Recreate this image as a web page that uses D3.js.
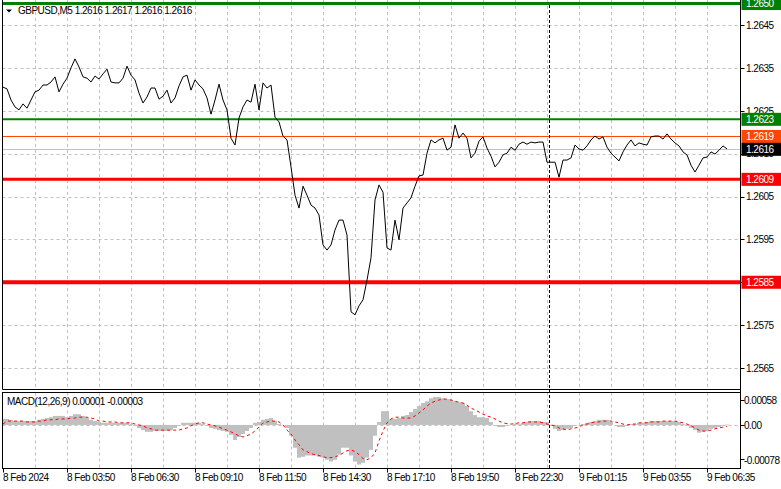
<!DOCTYPE html>
<html><head><meta charset="utf-8">
<script src="https://cdn.jsdelivr.net/npm/d3@7/dist/d3.min.js"></script>
<style>
body{margin:0;background:#fff}
svg{display:block}
text{font-family:"Liberation Sans",Arial,sans-serif;font-size:10px;letter-spacing:-0.5px}
</style>
</head><body><svg id="c" width="781" height="489"></svg>
<script>
// ---------- data ----------
const symbolTitle = "GBPUSD,M5  1.2616 1.2617 1.2616 1.2616";
const macdTitle = "MACD(12,26,9) 0.00001 -0.00003";

// closes, one value every 2 bars (M5)
const closes = [
1.26305,1.26301,1.26275,1.26259,1.26252,1.26266,1.26256,1.26275,1.26294,1.26298,
1.26310,1.26310,1.26317,1.26329,1.26294,1.26312,1.26326,1.26350,1.26371,1.26352,
1.26329,1.26326,1.26317,1.26331,1.26324,1.26336,1.26347,1.26317,1.26315,1.26315,
1.26326,1.26354,1.26333,1.26322,1.26291,1.26268,1.26282,1.26303,1.26303,1.26277,
1.26284,1.26298,1.26268,1.26280,1.26308,1.26329,1.26333,1.26298,1.26322,1.26310,
1.26301,1.26280,1.26242,1.26275,1.26312,1.26275,1.26252,1.26186,1.26170,1.26233,
1.26259,1.26275,1.26270,1.26312,1.26252,1.26315,1.26303,1.26310,1.26235,1.26224,
1.26191,1.26182,1.26119,1.26053,1.26023,1.26074,1.26053,1.26030,1.26023,1.26007,
1.25937,1.25925,1.25937,1.25972,1.25995,1.25995,1.25960,1.25781,1.25774,1.25795,
1.25809,1.25855,1.25907,1.26042,1.26077,1.26060,1.25930,1.25925,1.25995,1.25949,
1.26023,1.26035,1.26047,1.26074,1.26098,1.26100,1.26151,1.26182,1.26175,1.26182,
1.26186,1.26158,1.26165,1.26217,1.26186,1.26198,1.26186,1.26140,1.26151,1.26179,
1.26189,1.26163,1.26144,1.26119,1.26130,1.26147,1.26151,1.26165,1.26158,1.26172,
1.26177,1.26172,1.26177,1.26175,1.26177,1.26177,1.26130,1.26130,1.26130,1.26095,
1.26135,1.26135,1.26140,1.26170,1.26161,1.26158,1.26168,1.26182,1.26191,1.26184,
1.26189,1.26165,1.26151,1.26142,1.26133,1.26154,1.26170,1.26182,1.26168,1.26175,
1.26172,1.26170,1.26189,1.26191,1.26191,1.26184,1.26196,1.26184,1.26175,1.26168,
1.26154,1.26147,1.26123,1.26107,1.26123,1.26140,1.26142,1.26154,1.26149,1.26158,
1.26168,1.26161];

// MACD main (histogram) and signal, in units of 0.00001
const macdMain = [
14,14,12,9,9,9,9,9,9,12,
14,16,18,21,21,21,18,21,25,25,
21,16,12,9,7,5,5,5,5,5,
5,5,2,-2,-7,-12,-16,-16,-14,-14,
-14,-14,-12,-7,-2,5,5,5,5,5,
2,-2,-7,-9,-12,-14,-16,-23,-35,-28,
-21,-14,-7,5,7,12,14,16,9,2,
0,-7,-25,-53,-76,-74,-71,-71,-71,-74,
-76,-81,-85,-81,-69,-53,-53,-71,-85,-92,
-88,-76,-58,-25,7,32,32,14,14,16,
21,23,30,37,44,51,55,62,65,65,
62,60,58,55,53,51,44,32,23,18,
18,16,7,-2,-5,-5,-2,0,2,2,
5,7,9,9,9,7,7,-2,-9,-14,
-12,-9,-7,-2,0,2,5,7,9,12,
12,12,7,0,-5,-5,-2,2,2,5,
5,7,9,9,9,9,9,9,9,7,
2,-2,-7,-12,-18,-16,-14,-9,-7,-5,
-2,1];
const macdSignal = [
2,9,9,9,9,9,7,7,7,9,
9,12,12,12,14,14,14,16,16,18,
18,18,16,14,9,9,7,7,7,5,
5,5,5,2,0,-2,-7,-9,-12,-12,
-12,-12,-12,-12,-12,-9,-7,-2,2,5,
5,2,0,-2,-5,-9,-12,-16,-21,-25,
-28,-25,-21,-14,-5,5,7,9,9,7,
0,-12,-21,-35,-46,-58,-62,-67,-69,-71,
-74,-76,-76,-74,-71,-65,-60,-58,-62,-69,
-78,-81,-76,-65,-37,-14,5,14,18,18,
16,16,16,21,28,35,44,51,55,58,
60,60,58,55,53,51,46,39,35,30,
25,21,18,14,9,5,3,2,3,5,
5,7,7,7,7,5,2,0,-2,-7,
-9,-12,-9,-7,-5,0,2,5,7,7,
9,9,9,7,5,2,0,2,2,5,
5,5,7,7,7,9,9,9,9,7,
5,2,-2,-7,-12,-14,-14,-12,-9,-7,
-5,-3];

const priceTicks = [1.2565,1.2575,1.2585,1.2595,1.2605,1.2615,1.2625,1.2635,1.2645];
const levelPrices = [1.2650,1.2623,1.2619,1.2609,1.2585];
const bidPrice = 1.2616;
const macdTicks = [0.00058,0,-0.00078];
const macdTickLabels = ["0.00058","0.00","-0.00078"];
const timeLabels = ["8 Feb 2024","8 Feb 03:50","8 Feb 06:30","8 Feb 09:10","8 Feb 11:50","8 Feb 14:30",
                    "8 Feb 17:10","8 Feb 19:50","8 Feb 22:30","9 Feb 01:15","9 Feb 03:55","9 Feb 06:35"];
const barsPerPoint = 2, barsPerLabel = 32, barsPerGrid = 16;
const daySeparatorBar = 273;

// ---------- styles ----------
const levelStyle = [
  {color:"#008000", w:3},
  {color:"#008000", w:2},
  {color:"#ff4500", w:1},
  {color:"#ff0000", w:3},
  {color:"#ff0000", w:4}
];
const GRID = "#c0c0c0";

// ---------- layout ----------
const svg = d3.select("#c");
const L = 2.5, R = 740.5, mainTop = 0, mainBot = 389.5, mTop = 392.5, mBot = 468.5;
const nBars = (closes.length - 1) * barsPerPoint;
const x = d3.scaleLinear().domain([0, nBars]).range([3, 727]);
const y = d3.scaleLinear().domain([1.2565, 1.2645]).range([368, 25]);
const ym = d3.scaleLinear().domain([-0.00078, 0.00058]).range([458.5, 400]);

const defs = svg.append("defs");
defs.append("clipPath").attr("id","cm").append("rect").attr("x",L).attr("y",mainTop).attr("width",R-L).attr("height",mainBot-mainTop);
defs.append("clipPath").attr("id","cd").append("rect").attr("x",L+0.5).attr("y",mTop+0.5).attr("width",R-L-1).attr("height",mBot-mTop-1);

// grids
const gridBars = d3.range(barsPerGrid, nBars, barsPerGrid);
const gMain = svg.append("g").attr("clip-path","url(#cm)");
gMain.selectAll("line.hg").data(priceTicks).join("line")
  .attr("x1",L).attr("x2",R).attr("y1",d=>Math.round(y(d))+0.5).attr("y2",d=>Math.round(y(d))+0.5)
  .attr("stroke",GRID).attr("stroke-dasharray","3,3");
gMain.selectAll("line.vg").data(gridBars).join("line")
  .attr("x1",d=>Math.round(x(d))+0.5).attr("x2",d=>Math.round(x(d))+0.5).attr("y1",mainTop).attr("y2",mainBot)
  .attr("stroke",GRID).attr("stroke-dasharray","3,3");

const gM = svg.append("g").attr("clip-path","url(#cd)");
gM.selectAll("line.vg").data(gridBars).join("line")
  .attr("x1",d=>Math.round(x(d))+0.5).attr("x2",d=>Math.round(x(d))+0.5).attr("y1",mTop).attr("y2",mBot)
  .attr("stroke",GRID).attr("stroke-dasharray","3,3");

// bid line
gMain.append("line").attr("x1",L).attr("x2",R).attr("y1",Math.round(y(bidPrice))+0.5).attr("y2",Math.round(y(bidPrice))+0.5)
  .attr("stroke","#c0c0c0");

// level lines
gMain.selectAll("line.lv").data(levelPrices).join("line")
  .attr("x1",L).attr("x2",R).attr("y1",d=>y(d)).attr("y2",d=>y(d))
  .attr("stroke",(d,i)=>levelStyle[i].color).attr("stroke-width",(d,i)=>levelStyle[i].w);

// price line
gMain.append("path").datum(closes)
  .attr("d", d3.line().x((d,i)=>x(i*barsPerPoint)).y(d=>y(d)))
  .attr("fill","none").attr("stroke","#000").attr("stroke-width",1);

// MACD histogram
const zeroY = ym(0);
gM.selectAll("rect.h").data(macdMain).join("rect")
  .attr("x",(d,i)=>x(i*barsPerPoint)-2).attr("width",4)
  .attr("y",d=>Math.min(ym(d*1e-5),zeroY)).attr("height",d=>Math.abs(ym(d*1e-5)-zeroY))
  .attr("fill","#c0c0c0");
// MACD zero grid
gM.append("line").attr("x1",L).attr("x2",R).attr("y1",Math.round(zeroY)+0.5).attr("y2",Math.round(zeroY)+0.5)
  .attr("stroke",GRID).attr("stroke-dasharray","3,3");
// signal
gM.append("path").datum(macdSignal)
  .attr("d", d3.line().x((d,i)=>x(i*barsPerPoint)).y(d=>ym(d*1e-5)))
  .attr("fill","none").attr("stroke","#ff0000").attr("stroke-width",1).attr("stroke-dasharray","3,3");

// day separator
svg.append("line").attr("x1",Math.round(x(daySeparatorBar))+0.5).attr("x2",Math.round(x(daySeparatorBar))+0.5)
  .attr("y1",mainTop+5).attr("y2",mBot).attr("stroke","#000").attr("stroke-dasharray","3,2");

// borders
svg.append("line").attr("x1",L).attr("x2",L).attr("y1",0).attr("y2",mainBot).attr("stroke","#000");
svg.append("line").attr("x1",L).attr("x2",R).attr("y1",mainBot).attr("y2",mainBot).attr("stroke","#000");
svg.append("rect").attr("x",L).attr("y",mTop).attr("width",R-L).attr("height",mBot-mTop)
  .attr("fill","none").attr("stroke","#000");
svg.append("line").attr("x1",R).attr("x2",R).attr("y1",0).attr("y2",mBot).attr("stroke","#000");

// right price axis
const ax = svg.append("g");
ax.selectAll("line.t").data(priceTicks).join("line")
  .attr("x1",R).attr("x2",R+4).attr("y1",d=>Math.round(y(d))+0.5).attr("y2",d=>Math.round(y(d))+0.5).attr("stroke","#000");
ax.selectAll("text.t").data(priceTicks).join("text")
  .attr("x",746).attr("y",d=>y(d)+3.8).attr("fill","#000").text(d=>d.toFixed(4));

// level labels
const boxes = levelPrices.map((p,i)=>({p, color:levelStyle[i].color}));
boxes.push({p:bidPrice, color:"#000"});
const bg = ax.selectAll("g.box").data(boxes).join("g");
bg.append("rect").attr("x",R+1).attr("y",d=>y(d.p)-6.5).attr("width",781-R).attr("height",13).attr("fill",d=>d.color);
bg.append("text").attr("x",746).attr("y",d=>y(d.p)+3.8).attr("fill","#fff").text(d=>d.p.toFixed(4));

// MACD axis
ax.selectAll("line.m").data(macdTicks).join("line")
  .attr("x1",R).attr("x2",R+4).attr("y1",d=>Math.round(ym(d))+0.5).attr("y2",d=>Math.round(ym(d))+0.5).attr("stroke","#000");
ax.selectAll("text.m").data(macdTicks).join("text")
  .attr("x",744).attr("y",(d,i)=>ym(d)+3.8+(d<0?2:0)).attr("fill","#000").text((d,i)=>macdTickLabels[i]);

// time axis
const tx = svg.append("g");
tx.selectAll("line").data(timeLabels).join("line")
  .attr("x1",(d,i)=>Math.round(x(i*barsPerLabel))+0.5).attr("x2",(d,i)=>Math.round(x(i*barsPerLabel))+0.5)
  .attr("y1",mBot).attr("y2",mBot+4).attr("stroke","#000");
tx.selectAll("text").data(timeLabels).join("text")
  .attr("x",(d,i)=>x(i*barsPerLabel)).attr("y",481).attr("fill","#000").text(d=>d);

// titles
svg.append("path").attr("d","M6,9.5 L12,9.5 L9,12.5 Z").attr("fill","#000");
svg.append("text").attr("x",18).attr("y",14).attr("fill","#000").text(symbolTitle);
svg.append("text").attr("x",7).attr("y",405).attr("fill","#000").text(macdTitle);
</script></body></html>
